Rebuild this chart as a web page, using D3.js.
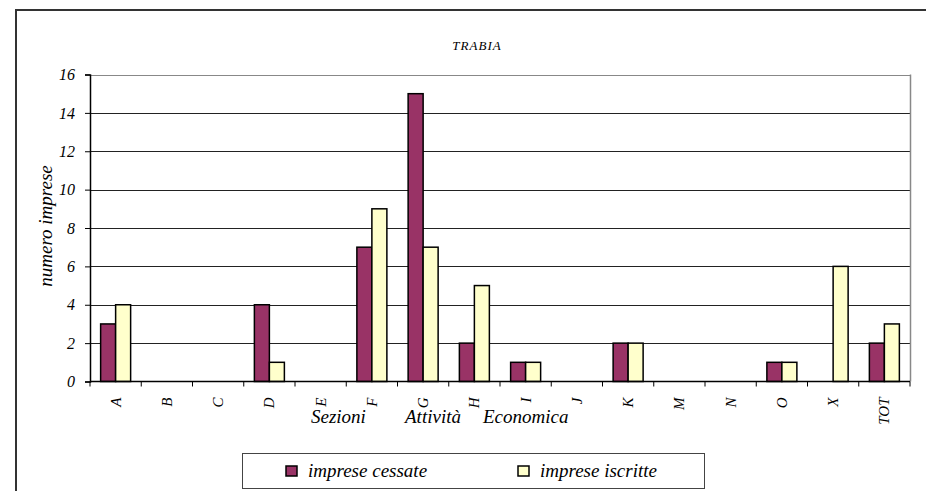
<!DOCTYPE html>
<html><head><meta charset="utf-8">
<script src="https://cdn.jsdelivr.net/npm/d3@7"></script>
</head>
<body style="margin:0;background:#fff">
<svg id="c" width="926" height="491"></svg>
<script>
const categories = ["A","B","C","D","E","F","G","H","I","J","K","M","N","O","X","TOT"];
const cessate  = [3,0,0,4,0,7,15,2,1,0,2,0,0,1,0,2];
const iscritte = [4,0,0,1,0,9,7,5,1,0,2,0,0,1,6,3];
const seriesNames = ["imprese cessate","imprese iscritte"];
const seriesColors = ["#993366","#FFFFCC"];
const yTicks = [0,2,4,6,8,10,12,14,16];

const svg = d3.select("#c");
const L = 90, R = 910, T = 74.5, B = 381.5;

function txt(sel, size){
  return sel.attr("font-family","Liberation Serif").attr("font-style","italic").attr("font-size",size)
    .style("font-family","'Liberation Serif', 'Times New Roman', serif")
    .style("font-style","italic").style("font-size",size+"px").attr("fill","#000");
}

// outer frame
svg.append("rect").attr("x",16).attr("y",10).attr("width",940).attr("height",500)
  .attr("fill","none").attr("stroke","#333").attr("stroke-width",2);

const x = d3.scaleBand().domain(categories).range([L,R]);
const y = d3.scaleLinear().domain([0,16]).range([B,T]);

// gridlines
svg.append("g").selectAll("line").data(yTicks.filter(d=>d>0)).join("line")
  .attr("x1",L).attr("x2",R).attr("y1",d=>Math.round(y(d))+0.5).attr("y2",d=>Math.round(y(d))+0.5)
  .attr("stroke",d=>d===16?"#888":"#222").attr("stroke-width",1);
svg.append("line").attr("x1",R+0.5).attr("x2",R+0.5).attr("y1",T).attr("y2",B)
  .attr("stroke","#888").attr("stroke-width",1.5);

// bars
const bw = 15;
[cessate, iscritte].forEach((vals, si) => {
  svg.append("g").selectAll("rect").data(categories.map((c,i)=>({c,v:vals[i]})).filter(d=>d.v>0)).join("rect")
    .attr("x", d => x(d.c) + x.bandwidth()/2 - bw + si*bw)
    .attr("y", d => y(d.v))
    .attr("width", bw)
    .attr("height", d => y(0) - y(d.v))
    .attr("fill", seriesColors[si])
    .attr("stroke", "#000").attr("stroke-width", 1.5);
});

// y axis
const gy = svg.append("g").attr("transform",`translate(${L},0)`)
  .call(d3.axisLeft(y).tickValues(yTicks).tickSize(5).tickPadding(10));
gy.attr("font-family","Liberation Serif").attr("font-size",16);
gy.select(".domain").attr("stroke","#000").attr("stroke-width",1.5);
gy.selectAll(".tick line").attr("stroke","#000");
txt(gy.selectAll(".tick text"), 16);

// x axis
const gx = svg.append("g").attr("transform",`translate(0,${B})`);
gx.append("line").attr("x1",L).attr("x2",R).attr("y1",0).attr("y2",0).attr("stroke","#000").attr("stroke-width",1.5);
const bounds = categories.map(c=>x(c)).concat([R]);
gx.selectAll("line.t").data(bounds).join("line").attr("class","t")
  .attr("x1",d=>d).attr("x2",d=>d).attr("y1",0).attr("y2",5).attr("stroke","#000");
txt(gx.selectAll("text").data(categories).join("text"), 15)
  .attr("transform", d => `translate(${x(d)+x.bandwidth()/2+5},${16}) rotate(-90)`)
  .attr("text-anchor","end")
  .text(d=>d);

// axis titles
const titleWords = ["Sezioni","Attività","Economica"];
const titleX = [311, 405, 483];
txt(svg.append("g").selectAll("text").data(titleWords).join("text"), 19)
  .attr("x",(d,i)=>titleX[i]).attr("y",423).text(d=>d);
txt(svg.append("text"), 19).attr("transform","translate(52,226) rotate(-90)").attr("text-anchor","middle")
  .text("numero imprese");
txt(svg.append("text"), 13).attr("x",477).attr("y",50).attr("text-anchor","middle")
  .attr("letter-spacing",1).text("TRABIA");

// legend
const lg = svg.append("g");
lg.append("rect").attr("x",242.5).attr("y",453.5).attr("width",462).attr("height",35)
  .attr("fill","#fff").attr("stroke","#444").attr("stroke-width",1);
const lx = [286, 518];
seriesNames.forEach((n,i)=>{
  lg.append("rect").attr("x",lx[i]).attr("y",466).attr("width",11).attr("height",10)
    .attr("fill",seriesColors[i]).attr("stroke","#000").attr("stroke-width",1.5);
  txt(lg.append("text"), 19).attr("x",lx[i]+22).attr("y",477).text(n);
});
</script>
</body></html>
